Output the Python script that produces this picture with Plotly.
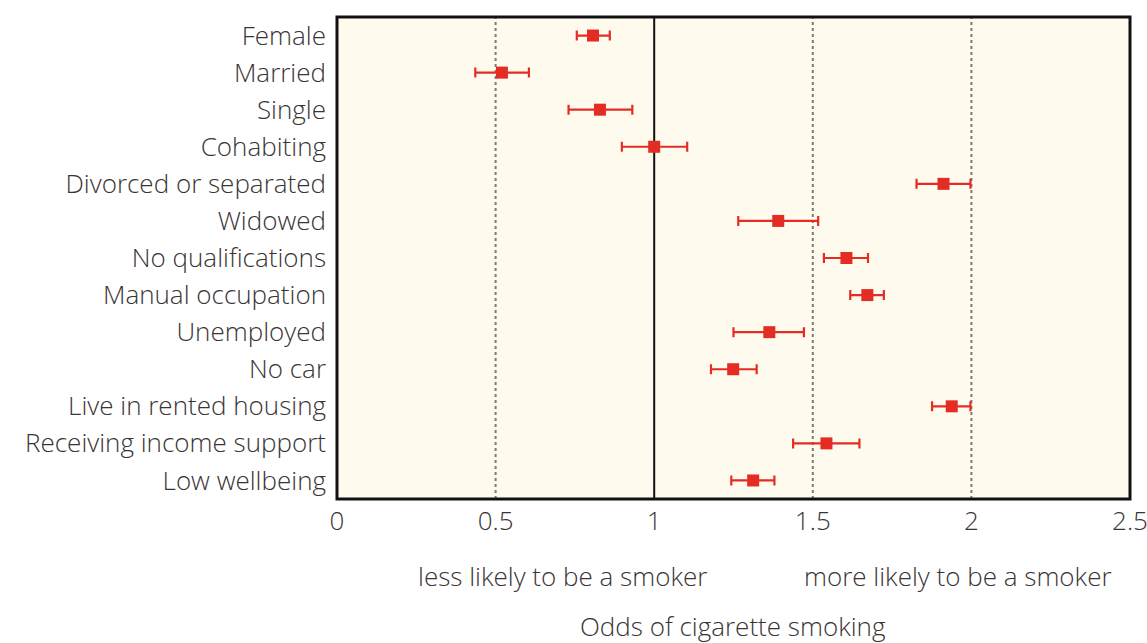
import plotly.graph_objects as go

categories = ["Female", "Married", "Single", "Cohabiting", "Divorced or separated",
              "Widowed", "No qualifications", "Manual occupation", "Unemployed",
              "No car", "Live in rented housing", "Receiving income support", "Low wellbeing"]
odds = [0.807, 0.520, 0.829, 1.000, 1.912, 1.391, 1.606, 1.672, 1.363, 1.249, 1.938, 1.543, 1.312]
ci_low = [0.756, 0.436, 0.730, 0.898, 1.827, 1.265, 1.535, 1.618, 1.250, 1.179, 1.876, 1.438, 1.243]
ci_high = [0.860, 0.605, 0.931, 1.104, 1.997, 1.517, 1.674, 1.724, 1.472, 1.323, 1.997, 1.647, 1.379]
x_ticks = [0, 0.5, 1, 1.5, 2, 2.5]
x_tick_labels = ["0", "0.5", "1", "1.5", "2", "2.5"]
ref_dotted = [0.5, 1.5, 2]
ref_solid = 1

FONT = "Open Sans, DejaVu Sans, sans-serif"
TXT = "#3a3434"
RED = "#e32d24"
FS = 26

W, H = 1147, 643
L, R, T, B = 337, W - 1130, 17, H - 499
PW, PH = W - L - R, H - T - B

fig = go.Figure()
fig.add_trace(go.Scatter(
    x=odds, y=categories, mode="markers",
    marker=dict(symbol="square", size=12, color=RED),
    error_x=dict(type="data", symmetric=False,
                 array=[h - o for h, o in zip(ci_high, odds)],
                 arrayminus=[o - l for o, l in zip(odds, ci_low)],
                 color=RED, thickness=2.2, width=5),
    showlegend=False, hoverinfo="skip"))

shapes = []
for v in ref_dotted:
    shapes.append(dict(type="line", xref="x", yref="paper", x0=v, x1=v, y0=0, y1=1,
                       line=dict(color="#7a7a7a", width=2, dash="dot"), layer="below"))
shapes.append(dict(type="line", xref="x", yref="paper", x0=ref_solid, x1=ref_solid, y0=0, y1=1,
                   line=dict(color="#111111", width=2), layer="below"))
shapes.append(dict(type="rect", xref="paper", yref="paper", x0=0, x1=1, y0=0, y1=1,
                   line=dict(color="#111111", width=3), fillcolor="rgba(0,0,0,0)"))

tf = dict(size=FS, color=TXT, family=FONT, weight=300)

fig.update_layout(
    width=W, height=H, autosize=False,
    margin=dict(l=L, r=R, t=T, b=B, autoexpand=False),
    paper_bgcolor="white", plot_bgcolor="#fffaee",
    font=dict(family=FONT, color=TXT, size=FS, weight=300),
    shapes=shapes,
    xaxis=dict(range=[0, 2.5], tickvals=x_ticks, ticktext=x_tick_labels,
               showgrid=False, zeroline=False, showline=False, ticks="",
               tickfont=tf, ticklabelstandoff=4, ticklabeloverflow="allow",
               automargin=False, fixedrange=True),
    yaxis=dict(categoryorder="array", categoryarray=categories,
               range=[12.5, -0.5], autorange=False, showgrid=False, zeroline=False,
               showline=False, ticks="", tickfont=tf, ticklabelstandoff=10,
               automargin=False, fixedrange=True),
    annotations=[
        dict(text="less likely to be a smoker", xref="paper", yref="paper",
             x=(562 - 337) / PW, y=-(576 - 499) / PH, showarrow=False,
             xanchor="center", yanchor="middle", font=tf),
        dict(text="more likely to be a smoker", xref="paper", yref="paper",
             x=(958 - 337) / PW, y=-(576 - 499) / PH, showarrow=False,
             xanchor="center", yanchor="middle", font=tf),
        dict(text="Odds of cigarette smoking", xref="paper", yref="paper",
             x=(733 - 337) / PW, y=-(626 - 499) / PH, showarrow=False,
             xanchor="center", yanchor="middle", font=tf),
    ],
)

fig.write_html(
    "out.html",
    config=dict(displayModeBar=False, responsive=False, staticPlot=True),
    post_script=("document.documentElement.style.overflow='hidden';"
                 "document.body.style.overflow='hidden';"
                 "document.body.style.margin='0';"),
)
